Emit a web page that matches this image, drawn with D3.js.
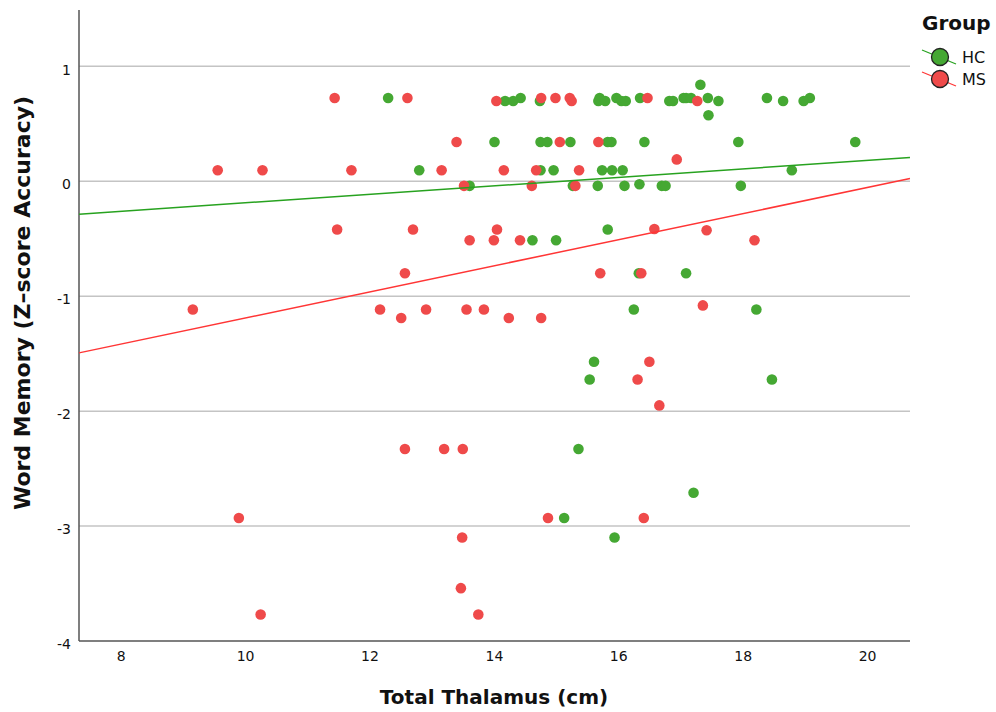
<!DOCTYPE html>
<html lang="en">
<head>
	<meta charset="UTF-8">
	<title>Word Memory vs Total Thalamus</title>
	<script src="https://cdn.jsdelivr.net/npm/d3@7"></script>
	<style>
		body { margin: 0; background: #fff; }
		text { font-family: "DejaVu Sans", sans-serif; fill: #111; }
	</style>
</head>
<body>
	<svg id="svg"></svg>
	<script>
		// values
		var hcX = [12.30, 14.43, 15.70, 15.97, 16.35, 17.05, 17.09, 17.17, 17.44, 18.39, 19.08,
			14.18, 14.31, 14.74, 15.68, 15.79, 16.05, 16.12, 16.82, 16.88, 17.61, 18.65, 18.98,
			17.32, 17.45,
			14.01, 14.75, 14.86, 15.23, 15.83, 15.89, 16.42, 17.93, 19.81,
			12.80, 14.75, 14.96, 15.74, 15.90, 16.07, 18.79,
			13.61, 15.27, 15.67, 16.10, 16.34, 16.70, 16.76, 17.97,
			15.83, 14.62, 15.00, 16.33, 17.09, 16.25, 18.22,
			15.61, 15.54, 18.47, 15.36, 17.21, 15.13, 15.94];
		var hcY = [0.724, 0.724, 0.724, 0.724, 0.724, 0.724, 0.724, 0.724, 0.724, 0.724, 0.724,
			0.698, 0.698, 0.698, 0.698, 0.698, 0.698, 0.698, 0.698, 0.698, 0.698, 0.698, 0.698,
			0.84, 0.574,
			0.342, 0.342, 0.342, 0.342, 0.342, 0.342, 0.342, 0.342, 0.342,
			0.096, 0.096, 0.096, 0.096, 0.096, 0.096, 0.096,
			-0.04, -0.04, -0.04, -0.04, -0.026, -0.04, -0.04, -0.04,
			-0.42, -0.513, -0.513, -0.80, -0.80, -1.116, -1.116,
			-1.57, -1.725, -1.725, -2.33, -2.71, -2.93, -3.10];

		var msX = [11.44, 12.61, 14.76, 14.99, 15.22, 16.47,
			14.04, 15.25, 17.27,
			13.40, 15.06, 15.68, 16.94,
			9.56, 10.28, 11.71, 13.16, 14.16, 14.68, 15.37,
			13.52, 14.61, 15.31,
			11.48, 12.70, 14.05, 16.58, 17.42,
			13.61, 14.00, 14.42, 18.19,
			12.57, 15.71, 16.37, 17.36,
			9.16, 12.17, 12.91, 13.56, 13.84,
			12.51, 14.24, 14.76,
			16.50, 16.31, 16.66,
			12.57, 13.20, 13.50,
			9.90, 14.87, 16.41,
			13.49, 13.47, 10.25, 13.75];
		var msY = [0.724, 0.724, 0.724, 0.724, 0.724, 0.724,
			0.698, 0.698, 0.698,
			0.342, 0.342, 0.342, 0.19,
			0.096, 0.096, 0.096, 0.096, 0.096, 0.096, 0.096,
			-0.04, -0.04, -0.04,
			-0.42, -0.42, -0.42, -0.415, -0.426,
			-0.513, -0.513, -0.513, -0.513,
			-0.80, -0.80, -0.80, -1.08,
			-1.116, -1.116, -1.116, -1.116, -1.116,
			-1.19, -1.19, -1.19,
			-1.57, -1.725, -1.95,
			-2.33, -2.33, -2.33,
			-2.93, -2.93, -2.93,
			-3.10, -3.54, -3.77, -3.77];

		// fit lines: [intercept, slope]
		var hcFit = [-0.557, 0.0369];
		var msFit = [-2.325, 0.1135];

		var groups = ["HC", "MS"];
		var xTicks = [8, 10, 12, 14, 16, 18, 20];
		var yTicks = [-4, -3, -2, -1, 0, 1];

		window.onload = function() {
			var w = 996,
				h = 712,
				margin = {top: 10, right: 86, bottom: 71, left: 79},
				svg = d3.select("#svg").attr("width", w).attr("height", h);

			var x = d3.scaleLinear().domain([7.33, 20.69]).range([margin.left, w - margin.right]);
			var y = d3.scaleLinear().domain([-4, 1.49]).range([h - margin.bottom, margin.top]);

			var pointColor = {HC: "#45a833", MS: "#ef4a4a"},
				lineColor = {HC: "#27a21f", MS: "#ff3535"};

			// gridlines
			svg.append("g").selectAll("line")
				.data(yTicks.filter(function(d) { return d > -4; }))
				.enter().append("line")
				.attr("x1", x.range()[0]).attr("x2", x.range()[1])
				.attr("y1", function(d) { return y(d); })
				.attr("y2", function(d) { return y(d); })
				.attr("stroke", "#c4c4c4")
				.attr("stroke-width", 1.5);

			// axes
			var fmt = function(d) { return String(d); };
			var xAxis = svg.append("g")
				.attr("transform", "translate(0," + (h - margin.bottom) + ")")
				.call(d3.axisBottom(x).tickValues(xTicks).tickFormat(fmt).tickSize(0).tickPadding(10));
			var yAxis = svg.append("g")
				.attr("transform", "translate(" + margin.left + ",0)")
				.call(d3.axisLeft(y).tickValues(yTicks).tickFormat(fmt).tickSize(0).tickPadding(8));
			[xAxis, yAxis].forEach(function(a) {
				a.select(".domain").attr("stroke", "#555").attr("stroke-width", 1.5);
				a.selectAll("text").style("font-family", "DejaVu Sans").style("font-size", "14px").attr("fill", "#222");
			});
			xAxis.select(".domain").attr("d", "M" + x.range()[0] + ",0H" + x.range()[1]);
			yAxis.select(".domain").attr("d", "M0," + y.range()[0] + "V" + y.range()[1]);
			yAxis.selectAll("text").attr("dy", "0.55em");

			// points
			var pts = [];
			hcX.forEach(function(v, i) { pts.push({g: "HC", x: v, y: hcY[i]}); });
			msX.forEach(function(v, i) { pts.push({g: "MS", x: v, y: msY[i]}); });
			svg.append("g").selectAll("circle")
				.data(pts)
				.enter().append("circle")
				.attr("cx", function(d) { return x(d.x); })
				.attr("cy", function(d) { return y(d.y); })
				.attr("r", 5.3)
				.attr("fill", function(d) { return pointColor[d.g]; });

			// fit lines
			var fits = [{g: "HC", f: hcFit}, {g: "MS", f: msFit}];
			svg.append("g").selectAll("line")
				.data(fits)
				.enter().append("line")
				.attr("x1", x.range()[0]).attr("x2", x.range()[1])
				.attr("y1", function(d) { return y(d.f[0] + d.f[1] * x.domain()[0]); })
				.attr("y2", function(d) { return y(d.f[0] + d.f[1] * x.domain()[1]); })
				.attr("stroke", function(d) { return lineColor[d.g]; })
				.attr("stroke-width", 1.5);

			// titles
			svg.append("text")
				.attr("x", 494).attr("y", 704)
				.attr("text-anchor", "middle")
				.style("font-size", "20px").style("font-weight", "bold")
				.text("Total Thalamus (cm)");
			svg.append("text")
				.attr("transform", "translate(30,303) rotate(-90)")
				.attr("text-anchor", "middle")
				.style("font-size", "22px").style("font-weight", "bold")
				.text("Word Memory (Z\u2013score Accuracy)");

			// legend
			var lg = svg.append("g");
			lg.append("text")
				.attr("x", 922).attr("y", 30)
				.style("font-size", "20px").style("font-weight", "bold")
				.text("Group");
			var item = lg.selectAll("g.item")
				.data(groups)
				.enter().append("g")
				.attr("class", "item")
				.attr("transform", function(d, i) { return "translate(940," + (57 + i * 22) + ")"; });
			item.append("line")
				.attr("x1", -18).attr("y1", -7).attr("x2", 16).attr("y2", 7)
				.attr("stroke", function(d) { return lineColor[d]; })
				.attr("stroke-width", 1.2);
			item.append("circle")
				.attr("r", 8.5)
				.attr("fill", function(d) { return pointColor[d]; })
				.attr("stroke", "#222")
				.attr("stroke-width", 1.3);
			item.append("text")
				.attr("x", 22).attr("y", 6)
				.style("font-size", "16px")
				.text(function(d) { return d; });
		};
	</script>
</body>
</html>
